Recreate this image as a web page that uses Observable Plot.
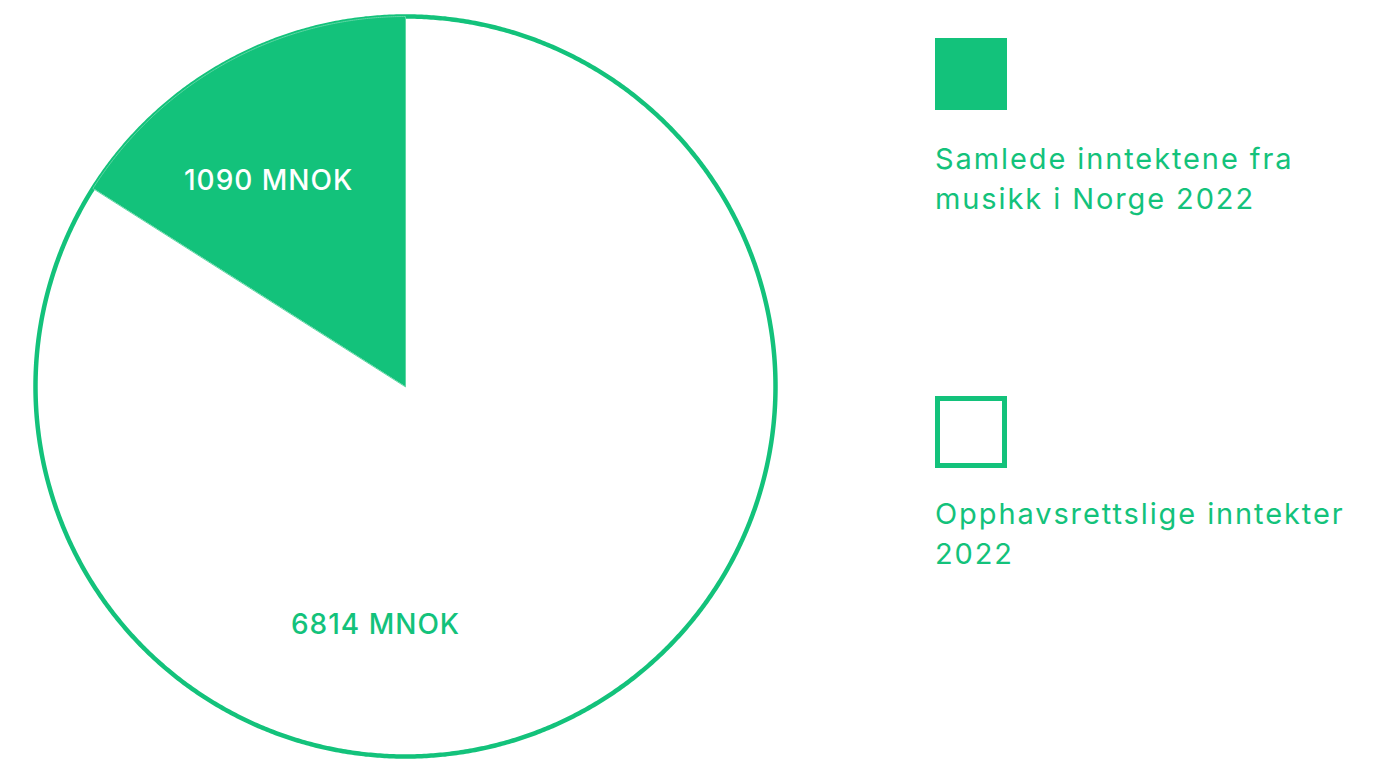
<!DOCTYPE html>
<html>
<head>
<meta charset="utf-8">
<script src="https://cdn.jsdelivr.net/npm/d3@7"></script>
<script src="https://cdn.jsdelivr.net/npm/@observablehq/plot@0.6"></script>
<style>
  html, body { margin: 0; padding: 0; background: #fff; }
  body { width: 1380px; height: 760px; position: relative; overflow: hidden; font-family: Inter, "Noto Sans", sans-serif; }
  #chart { position: absolute; left: 0; top: 0; }
  .swatch { position: absolute; left: 935px; width: 72px; height: 72px; box-sizing: border-box; }
  .legend-text { position: absolute; left: 935px; color: #13c27b; font-size: 29px; line-height: 40px; letter-spacing: 1.9px; white-space: nowrap; }
</style>
</head>
<body>
<div id="chart"></div>
<div id="legend"></div>
<script>
// Data
const categories = ["Samlede inntektene fra musikk i Norge 2022", "Opphavsrettslige inntekter 2022"];
const legendLines = [["Samlede inntektene fra", "musikk i Norge 2022"], ["Opphavsrettslige inntekter", "2022"]];
const valuesMNOK = [1090, 6814];
const valueLabels = ["1090 MNOK", "6814 MNOK"];

const green = "#13c27b";
const cx = 405, cy = 386, R = 370;

// The filled slice is shown as a share of the whole (6814); the rest is the outline slice
const sliceData = [valuesMNOK[0], valuesMNOK[1] - valuesMNOK[0]];
const pie = d3.pie().sort(null).value(d => d)(sliceData);

function polygon(a0, a1, steps) {
  const pts = [{x: 0, y: 0}];
  for (let i = 0; i <= steps; i++) {
    const a = a0 + (a1 - a0) * i / steps;
    pts.push({x: Math.sin(a), y: Math.cos(a)});
  }
  return pts;
}
// Green slice drawn counterclockwise from 12 o'clock
const gSpan = pie[0].endAngle - pie[0].startAngle;
const greenPts = polygon(0, -gSpan, 200);
const whitePts = polygon(-gSpan, -2 * Math.PI, 800);
const circlePts = polygon(0, 2 * Math.PI, 1000).slice(1);

const labelPos = [{x: -0.37, y: 0.554}, {x: -0.081, y: -0.646}];
const labels = valueLabels.map((t, i) => ({text: t, ...labelPos[i], fill: i === 0 ? "#fff" : green}));

const plot = Plot.plot({
  width: 820,
  height: 760,
  margin: 0,
  x: {domain: [-1, 1], range: [cx - R, cx + R], axis: null},
  y: {domain: [-1, 1], range: [cy + R, cy - R], axis: null},
  marks: [
    Plot.line(whitePts, {x: "x", y: "y", fill: "#fff", stroke: "none", curve: "linear-closed"}),
    Plot.line(circlePts, {x: "x", y: "y", fill: "none", stroke: green, strokeWidth: 4.5, curve: "linear-closed"}),
    Plot.line(greenPts, {x: "x", y: "y", fill: green, stroke: "#5fd6a4", strokeWidth: 1, curve: "linear-closed"}),
    Plot.text(labels, {x: "x", y: "y", text: "text", fill: "fill", fontSize: 28, fontWeight: 500, textAnchor: "middle", fontFamily: "Inter, sans-serif"})
  ],
  style: {background: "transparent", overflow: "visible"}
});
document.getElementById("chart").appendChild(plot);
plot.querySelectorAll("text").forEach(t => t.style.letterSpacing = "1px");

// Legend
const legend = document.getElementById("legend");
const swatchTops = [38, 396];
const textTops = [139, 494];
categories.forEach((c, i) => {
  const sw = document.createElement("div");
  sw.className = "swatch";
  sw.style.top = swatchTops[i] + "px";
  if (i === 0) sw.style.background = green;
  else sw.style.border = `5px solid ${green}`;
  legend.appendChild(sw);
  const txt = document.createElement("div");
  txt.className = "legend-text";
  txt.style.top = textTops[i] + "px";
  txt.innerHTML = legendLines[i].join("<br>");
  txt.title = c;
  legend.appendChild(txt);
});
</script>
</body>
</html>
